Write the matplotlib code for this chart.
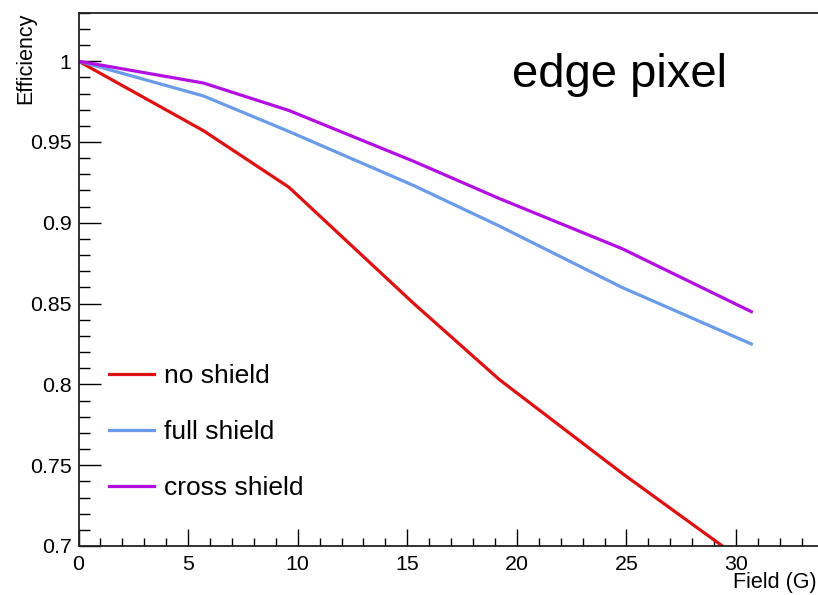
import matplotlib
matplotlib.use("Agg")
import matplotlib.pyplot as plt
from matplotlib.ticker import MultipleLocator

plt.rcParams['font.family'] = ['Liberation Sans', 'DejaVu Sans']

# Field values (G) and efficiencies
field = [0, 5.7, 9.6, 15.3, 19.2, 24.8, 30.7]
no_shield = [1.0, 0.957, 0.922, 0.850, 0.803, 0.745, 0.687]
full_shield = [1.0, 0.9785, 0.9565, 0.923, 0.898, 0.860, 0.825]
cross_shield = [1.0, 0.9865, 0.9695, 0.938, 0.915, 0.884, 0.845]

labels = ['no shield', 'full shield', 'cross shield']
colours = ['#dd1111', '#6a9be8', '#b30ee2']

fig = plt.figure(figsize=(8.18, 5.95), dpi=100)
ax = fig.add_axes([78.5 / 818, 49 / 595, 1 - 78.5 / 818, (546 - 12.7) / 595])

for ys, lab, col in zip([no_shield, full_shield, cross_shield], labels, colours):
    ax.plot(field, ys, color=col, lw=2.3, label=lab, solid_joinstyle='round')

ax.set_xlim(0, 33.74)
ax.set_ylim(0.7, 1.03)

# ROOT-like ticks: inside, left and bottom only
ax.xaxis.set_major_locator(MultipleLocator(5))
ax.xaxis.set_minor_locator(MultipleLocator(1))
ax.yaxis.set_major_locator(MultipleLocator(0.05))
ax.yaxis.set_minor_locator(MultipleLocator(0.01))
ax.tick_params(axis='x', which='major', direction='in', length=12, width=1,
               labelsize=15.4, pad=6.5)
ax.tick_params(axis='x', which='minor', direction='in', length=5.5, width=1)
ax.tick_params(axis='y', which='major', direction='in', length=15.5, width=1,
               labelsize=15.4, pad=5)
ax.tick_params(axis='y', which='minor', direction='in', length=8, width=1)
ax.set_yticks([0.7, 0.75, 0.8, 0.85, 0.9, 0.95, 1.0])
ax.set_yticklabels(['0.7', '0.75', '0.8', '0.85', '0.9', '0.95', '1'])
ax.set_xticks([0, 5, 10, 15, 20, 25, 30])
ax.set_xticklabels(['0', '5', '10', '15', '20', '25', '30'])

ax.spines['right'].set_visible(False)
for s in ['left', 'bottom', 'top']:
    ax.spines[s].set_linewidth(1.3)
    ax.spines[s].set_color('#222222')

ax.text(0.586, 0.861, 'edge pixel', transform=ax.transAxes,
        fontsize=34, va='baseline', ha='left')

fig.text(25.5 / 818, 1 - 12.7 / 595, 'Efficiency', rotation=90,
         fontsize=15.5, ha='center', va='top')
fig.text(817 / 818, 7 / 595, 'Field (G)', fontsize=15.5, ha='right',
         va='baseline')

ax.legend(loc='upper left', bbox_to_anchor=(0.0095, 0.385), frameon=False,
          fontsize=19, handlelength=1.7, handletextpad=0.38,
          labelspacing=1.2, borderaxespad=0.5)

plt.savefig('out.png', dpi=100)
